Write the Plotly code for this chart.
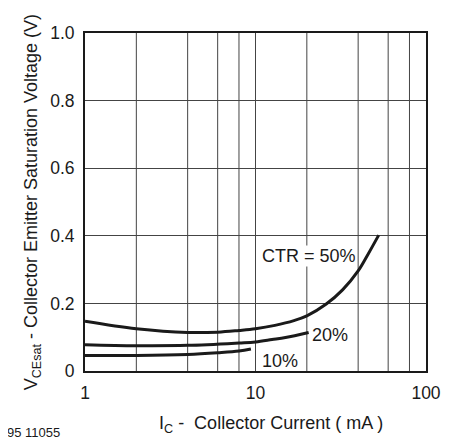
import math
import plotly.graph_objects as go

ic_50 = [1, 2, 4, 6, 8, 10, 13, 16.8, 20, 26, 32.4, 40, 45.9, 52.8]
vce_50 = [0.147, 0.125, 0.114, 0.115, 0.120, 0.125, 0.135, 0.149, 0.163, 0.198, 0.240, 0.296, 0.347, 0.402]
ic_20 = [1, 2, 4, 8, 10, 12.5, 15, 20.5]
vce_20 = [0.078, 0.075, 0.076, 0.083, 0.086, 0.093, 0.099, 0.114]
ic_10 = [1, 2, 4, 6, 8, 9.4]
vce_10 = [0.046, 0.046, 0.049, 0.054, 0.059, 0.065]

y_ticks = [0, 0.2, 0.4, 0.6, 0.8, 1.0]
y_tick_labels = ["0", "0.2", "0.4", "0.6", "0.8", "1.0"]
x_ticks = [1, 10, 100]
x_tick_labels = ["1", "10", "100"]
x_grid = [2, 4, 6, 8, 10, 20, 40, 60, 80]

curve_labels = [("CTR = 50%", 20.5, 0.340), ("20%", 27.3, 0.1065), ("10%", 13.9, 0.0305)]

FONT = "Liberation Sans, Arial, Helvetica, sans-serif"
INK = "#1a1a1a"

fig = go.Figure()
for xs, ys in [(ic_50, vce_50), (ic_20, vce_20), (ic_10, vce_10)]:
    fig.add_trace(go.Scatter(x=xs, y=ys, mode="lines",
                             line=dict(color=INK, width=3, shape="spline", smoothing=1.0),
                             showlegend=False, hoverinfo="skip"))

for gx in x_grid:
    fig.add_shape(type="line", xref="x", yref="paper", x0=gx, x1=gx, y0=0, y1=1,
                  line=dict(color="#444444", width=1), layer="below")

for text, x, y in curve_labels:
    fig.add_annotation(x=math.log10(x), y=y, xref="x", yref="y", text=text, showarrow=False,
                       font=dict(family=FONT, size=18, color=INK),
                       bgcolor="white" if text.startswith("CTR") else "rgba(0,0,0,0)",
                       borderpad=0)

fig.add_annotation(x=0.546, y=-0.157, xref="paper", yref="paper",
                   text="I<sub>C</sub> -  Collector Current ( mA )", showarrow=False,
                   font=dict(family=FONT, size=18, color=INK), yanchor="middle")
fig.add_annotation(x=-0.194, y=0.50, xref="paper", yref="paper",
                   text="V<sub>CEsat</sub> - Collector Emitter Saturation Voltage (V)", showarrow=False,
                   textangle=-90, font=dict(family=FONT, size=18, color=INK))
fig.add_annotation(x=-0.234, y=-0.182, xref="paper", yref="paper",
                   text="95 11055", showarrow=False, xanchor="left", yanchor="middle",
                   font=dict(family=FONT, size=13, color=INK))

fig.update_xaxes(type="log", range=[0, 2], tickvals=x_ticks, ticktext=x_tick_labels,
                 showgrid=False, showline=True, linecolor=INK, linewidth=2, mirror=True,
                 ticks="", ticklabelstandoff=5, zeroline=False,
                 tickfont=dict(family=FONT, size=17.5, color=INK))
fig.update_yaxes(range=[0, 1.0], tickvals=y_ticks, ticktext=y_tick_labels,
                 showgrid=True, gridcolor="#444444", gridwidth=1,
                 showline=True, linecolor=INK, linewidth=2, mirror=True,
                 ticks="", ticklabelstandoff=5, zeroline=False,
                 tickfont=dict(family=FONT, size=17.5, color=INK))

# page body has an 8px margin, so the figure is sized to fit the 453x442 window
fig.update_layout(width=445, height=434, margin=dict(l=77, r=17, t=25, b=71),
                  plot_bgcolor="white", paper_bgcolor="white",
                  font=dict(family=FONT, color=INK))

fig.write_html("out.html")
